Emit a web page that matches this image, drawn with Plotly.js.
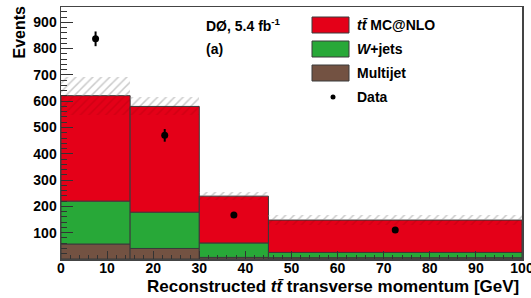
<!DOCTYPE html>
<html>
<head>
<meta charset="utf-8">
<script src="https://cdn.plot.ly/plotly-3.0.1.min.js"></script>
<style>html,body{margin:0;padding:0;background:#fff;}#chart{width:531px;height:298px;}</style>
</head>
<body>
<div id="chart"></div>
<script>
// Data
var binEdges = [0, 15, 30, 45, 100];
var multijet = [57, 40, 6, 5];
var wjets = [163, 138, 55, 20];
var ttbar = [401, 402, 178, 123];
var bandErr = [72, 34, 15, 19];
var dataX = [7.5, 22.5, 37.5, 72.5];
var dataY = [837, 470, 167, 110];
var dataErr = [28, 24, 9, 6];
var xTicks = [0, 10, 20, 30, 40, 50, 60, 70, 80, 90, 100];
var yTicks = [100, 200, 300, 400, 500, 600, 700, 800, 900];

var centers = [], widths = [];
for (var i = 0; i < binEdges.length - 1; i++) {
  centers.push((binEdges[i] + binEdges[i + 1]) / 2);
  widths.push(binEdges[i + 1] - binEdges[i]);
}
var base2 = multijet.slice();
var base3 = multijet.map(function (v, i) { return v + wjets[i]; });
var total = base3.map(function (v, i) { return v + ttbar[i]; });
var bandLow = total.map(function (v, i) { return v - bandErr[i]; });

var RED = 'rgb(228,0,24)', GREEN = 'rgb(40,168,56)', BROWN = 'rgb(115,82,66)';
var outline = {color: '#3a3a3a', width: 1};
var F = 'Liberation Sans, Arial, sans-serif';

var traces = [
  {type: 'bar', x: centers, width: widths, y: multijet, base: 0,
   marker: {color: BROWN, line: outline}, hoverinfo: 'skip'},
  {type: 'bar', x: centers, width: widths, y: wjets, base: base2,
   marker: {color: GREEN, line: outline}, hoverinfo: 'skip'},
  {type: 'bar', x: centers, width: widths, y: ttbar, base: base3,
   marker: {color: RED, line: outline}, hoverinfo: 'skip'},
  // uncertainty band, upper half (over white)
  {type: 'bar', x: centers, width: widths, y: bandErr, base: total,
   marker: {color: 'rgba(0,0,0,0)', line: {width: 0},
            pattern: {shape: '/', fgcolor: 'rgba(150,150,150,0.5)', bgcolor: 'rgba(0,0,0,0)', size: 6, solidity: 0.25}},
   hoverinfo: 'skip'},
  // uncertainty band, lower half (over red)
  {type: 'bar', x: centers, width: widths, y: bandErr, base: bandLow,
   marker: {color: 'rgba(0,0,0,0)', line: {width: 0},
            pattern: {shape: '/', fgcolor: 'rgba(120,0,0,0.18)', bgcolor: 'rgba(0,0,0,0)', size: 6, solidity: 0.25}},
   hoverinfo: 'skip'},
  {type: 'scatter', mode: 'markers', x: dataX, y: dataY,
   error_y: {type: 'data', array: dataErr, visible: true, color: '#000', thickness: 2, width: 0},
   marker: {color: '#000', size: 7}, hoverinfo: 'skip'}
];

var legRows = [
  {y: 25, text: '<b><i>t</i><i>t̄</i> MC@NLO</b>', color: RED},
  {y: 49, text: '<b><i>W</i>+jets</b>', color: GREEN},
  {y: 73, text: '<b>Multijet</b>', color: BROWN},
  {y: 97, text: '<b>Data</b>', color: null}
];
var W = 531, H = 298;
var PL = 61, PR = 522, PT = 7, PB = 259;
function px(x) { return (x - PL) / (PR - PL); }
function py(y) { return (PB - y) / (PB - PT); }

var shapes = [], annotations = [];
legRows.forEach(function (r) {
  if (r.color) {
    shapes.push({type: 'rect', xref: 'paper', yref: 'paper',
      x0: px(312), x1: px(349), y0: py(r.y + 8), y1: py(r.y - 8),
      fillcolor: r.color, line: {color: '#3a3a3a', width: 1}});
  } else {
    shapes.push({type: 'circle', xref: 'paper', yref: 'paper',
      x0: px(330.5), x1: px(335.5), y0: py(r.y + 2.5), y1: py(r.y - 2.5),
      fillcolor: '#000', line: {color: '#000', width: 0}});
  }
  annotations.push({xref: 'paper', yref: 'paper', x: px(355), y: py(r.y),
    xanchor: 'left', yanchor: 'middle', showarrow: false, text: r.text,
    font: {family: F, size: 14, color: '#000'}});
});
annotations.push({xref: 'paper', yref: 'paper', x: px(204), y: py(25), xanchor: 'left', yanchor: 'middle',
  showarrow: false, text: '<b>DØ, 5.4 fb<sup>-1</sup></b>', font: {family: F, size: 14, color: '#000'}});
annotations.push({xref: 'paper', yref: 'paper', x: px(204), y: py(49), xanchor: 'left', yanchor: 'middle',
  showarrow: false, text: '<b>(a)</b>', font: {family: F, size: 14, color: '#000'}});
// axis titles (ROOT style: right/top aligned)
annotations.push({xref: 'paper', yref: 'paper', x: px(521), y: py(286), xanchor: 'right', yanchor: 'middle',
  showarrow: false, text: '<b>Reconstructed <i>t</i><i>t̄</i> transverse momentum [GeV]</b>',
  font: {family: F, size: 17, color: '#000'}});
annotations.push({xref: 'paper', yref: 'paper', x: px(19), y: py(4), xanchor: 'center', yanchor: 'top',
  showarrow: false, textangle: -90, text: '<b>Events</b>', font: {family: F, size: 16, color: '#000'}});

var layout = {
  width: W, height: H,
  margin: {l: PL, r: W - PR, t: PT, b: H - PB, pad: 0},
  paper_bgcolor: '#fff', plot_bgcolor: '#fff',
  barmode: 'overlay', bargap: 0, showlegend: false,
  font: {family: F, size: 14, color: '#000'},
  xaxis: {range: [0, 100], tickmode: 'array', tickvals: xTicks, ticklabeloverflow: 'allow',
    ticklabelstandoff: -4,
    ticks: 'inside', ticklen: 8, tickcolor: '#333', tickwidth: 1,
    minor: {tickmode: 'linear', tick0: 0, dtick: 2, ticks: 'inside', ticklen: 4, tickcolor: '#333'},
    showgrid: false, zeroline: false, showline: true, mirror: true, linecolor: '#444', linewidth: 1.5,
    tickfont: {family: F, size: 14, color: '#000', weight: 'bold'}},
  yaxis: {range: [0, 958], tickmode: 'array', tickvals: yTicks, ticklabeloverflow: 'allow',
    ticks: 'inside', ticklen: 12, tickcolor: '#333', tickwidth: 1,
    minor: {tickmode: 'linear', tick0: 0, dtick: 20, ticks: 'inside', ticklen: 6, tickcolor: '#333'},
    showgrid: false, zeroline: false, showline: true, mirror: true, linecolor: '#444', linewidth: 1.5,
    tickfont: {family: F, size: 14, color: '#000', weight: 'bold'}},
  shapes: shapes, annotations: annotations
};
Plotly.newPlot('chart', traces, layout, {staticPlot: true, displayModeBar: false});
</script>
</body>
</html>
